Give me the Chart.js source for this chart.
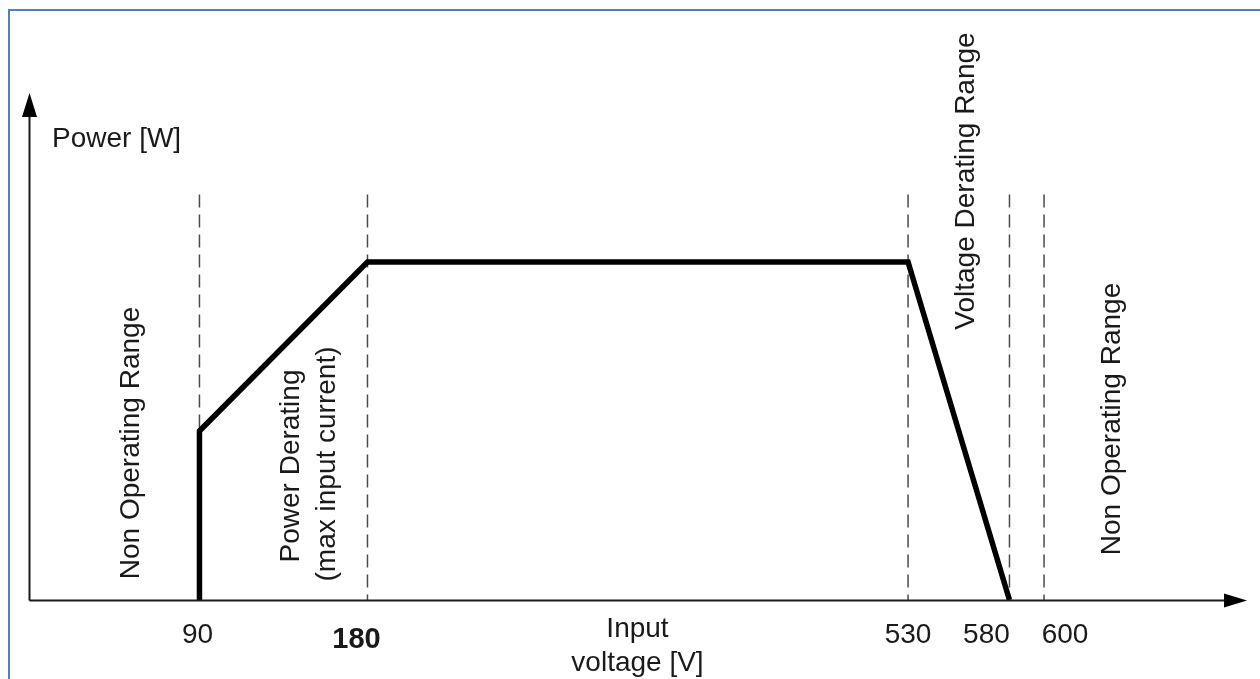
<!DOCTYPE html>
<html>
<head>
<meta charset="utf-8">
<script src="https://cdn.jsdelivr.net/npm/chart.js@4/dist/chart.umd.min.js"></script>
<style>
  html, body { margin:0; padding:0; background:#fff; }
  canvas { display:block; }
</style>
</head>
<body>
<canvas id="derating" width="1260" height="679"></canvas>
<script>
// input voltage breakpoints [V] and relative power [% of max]
const VOLTAGE = [90, 90, 180, 530, 580];
const POWER   = [0, 50, 100, 100, 0];
// dashed region borders and their tick labels
const MARKS       = [90, 180, 530, 580, 600];
const TICK_LABELS = ["90", "180", "530", "580", "600"];
const MARK_TOP = 120;

// schematic (not to scale) x axis: value -> fraction of axis width
const X_BREAKS = [[0,0],[90,0.1396],[180,0.2776],[530,0.7216],[580,0.8049],[600,0.8333],[700,1]];

class PiecewiseScale extends Chart.LinearScale {
  getPixelForValue(value){
    if(value === null || isNaN(value)) return NaN;
    let f = 1;
    for(let i = 1; i < X_BREAKS.length; i++){
      const [v0,f0] = X_BREAKS[i-1], [v1,f1] = X_BREAKS[i];
      if(value <= v1){ f = f0 + (value - v0) / (v1 - v0) * (f1 - f0); break; }
    }
    return this.getPixelForDecimal(f);
  }
  getValueForPixel(pixel){
    const f = this.getDecimalForPixel(pixel);
    for(let i = 1; i < X_BREAKS.length; i++){
      const [v0,f0] = X_BREAKS[i-1], [v1,f1] = X_BREAKS[i];
      if(f <= f1) return v0 + (f - f0) / (f1 - f0) * (v1 - v0);
    }
    return X_BREAKS[X_BREAKS.length-1][0];
  }
}
PiecewiseScale.id = "piecewise";
PiecewiseScale.defaults = Chart.LinearScale.defaults;
Chart.register(PiecewiseScale);

const FONT = '"Liberation Sans", Arial, sans-serif';
const INK = "#1a1a1a";

const frame = {
  id:"frame",
  beforeDraw(chart){
    const ctx = chart.ctx;
    ctx.save();
    ctx.fillStyle = "#4f81bd";
    ctx.fillRect(8, 9, 1252, 2);
    ctx.fillRect(8, 9, 2, 670);
    ctx.restore();
  },
  afterDraw(chart){
    const {ctx, chartArea:a, scales:{x}} = chart;
    ctx.save();
    // axes with arrow heads
    ctx.strokeStyle = INK; ctx.fillStyle = "#000"; ctx.lineWidth = 2;
    ctx.beginPath();
    ctx.moveTo(a.left, a.bottom + 0.5); ctx.lineTo(a.left, a.top + 22);
    ctx.moveTo(a.left, a.bottom + 0.5); ctx.lineTo(a.right - 22, a.bottom + 0.5);
    ctx.stroke();
    ctx.beginPath();
    ctx.moveTo(a.left, a.top); ctx.lineTo(a.left - 7.5, a.top + 24); ctx.lineTo(a.left + 7.5, a.top + 24);
    ctx.closePath(); ctx.fill();
    ctx.beginPath();
    ctx.moveTo(a.right, a.bottom + 0.5); ctx.lineTo(a.right - 23, a.bottom - 6.5); ctx.lineTo(a.right - 23, a.bottom + 7.5);
    ctx.closePath(); ctx.fill();

    // tick labels
    const tickDx = [-2, -11, 0, -23, 21];
    ctx.fillStyle = INK;
    ctx.textAlign = "center"; ctx.textBaseline = "alphabetic";
    MARKS.forEach((m, i) => {
      const bold = TICK_LABELS[i] === "180";
      ctx.font = (bold ? "bold 29px " : "28px ") + FONT;
      ctx.fillText(TICK_LABELS[i], x.getPixelForValue(m) + tickDx[i], bold ? 648 : 643);
    });

    // axis titles
    ctx.font = "28px " + FONT;
    ctx.textAlign = "left";
    ctx.fillText("Power [W]", 52, 147);
    ctx.textAlign = "center";
    ctx.fillText("Input", 637.5, 637);
    ctx.fillText("voltage [V]", 637.5, 671);

    // region labels (rotated)
    const vlabel = (text, cx, cy) => {
      ctx.save();
      ctx.translate(cx, cy);
      ctx.rotate(-Math.PI / 2);
      ctx.textAlign = "center"; ctx.textBaseline = "middle";
      ctx.fillText(text, 0, 0);
      ctx.restore();
    };
    vlabel("Non Operating Range", 131, 443);
    vlabel("Power Derating", 291, 466);
    vlabel("(max input current)", 327, 464);
    vlabel("Voltage Derating Range", 966, 181);
    vlabel("Non Operating Range", 1112, 419);
    ctx.restore();
  }
};

const markSets = MARKS.map(m => ({
  data:[{x:m, y:MARK_TOP}, {x:m, y:0}],
  borderColor:"#4a4a4a",
  borderWidth:1.5,
  borderDash:[13,7],
  pointRadius:0,
  order:2
}));

new Chart(document.getElementById("derating"), {
  type:"line",
  data:{
    datasets:[{
      data:VOLTAGE.map((v, i) => ({x:v, y:POWER[i]})),
      borderColor:"#000",
      borderWidth:5.5,
      borderJoinStyle:"miter",
      pointRadius:0,
      tension:0,
      order:1
    }, ...markSets]
  },
  options:{
    responsive:false,
    animation:false,
    events:[],
    layout:{ padding:{ left:29.5, top:93, right:13, bottom:79 } },
    plugins:{ legend:{ display:false }, tooltip:{ enabled:false } },
    scales:{
      x:{ type:"piecewise", min:0, max:700, display:false },
      y:{ type:"linear", min:0, max:150, display:false }
    }
  },
  plugins:[frame]
});
</script>
</body>
</html>
